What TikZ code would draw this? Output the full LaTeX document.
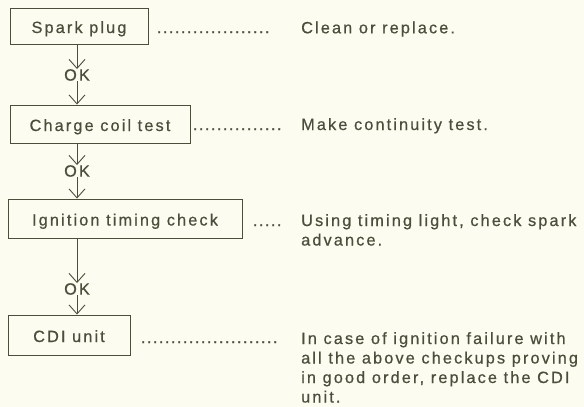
\documentclass[tikz,border=0pt]{standalone}
\usepackage{fontspec}
\setmainfont{Liberation Sans}[LetterSpace=13,FakeBold=0.6]
\usetikzlibrary{arrows.meta}
\definecolor{ink}{HTML}{4D4D3B}
\definecolor{paper}{HTML}{FCFCF1}
\newcommand{\leaderdots}[1]{\hbox to #1{\xleaders\hbox to 6pt{\hss.\hss}\hfill}}
\newcommand{\lines}[1]{\vtop{\baselineskip=19.5pt\halign{##\hfil\cr#1\crcr}}}
\begin{document}
\begin{tikzpicture}[x=1pt,y=-1pt,
  every node/.style={text=ink,font=\fontsize{16.3}{19.5}\selectfont},
  stepbox/.style={draw=ink,line width=0.9pt,inner sep=0pt,anchor=center,text height=14pt,text depth=0pt},
  oklabel/.style={inner sep=0pt,anchor=center},
  flow/.style={draw=ink,line width=0.9pt,-{Straight Barb[length=9pt,width=16pt,line width=0.9pt]}},
  note/.style={anchor=base west,inner sep=0pt},
  leader/.style={anchor=base west,inner sep=0pt}]
\fill[paper] (0,0) rectangle (584,407);
\useasboundingbox (0,0) rectangle (584,407);
% boxes
\node[stepbox,minimum width=138pt,minimum height=36pt] (b1) at (79,26) {Spark plug};
\node[stepbox,minimum width=180pt,minimum height=38pt] (b2) at (100,124) {Charge coil test};
\node[stepbox,minimum width=234pt,minimum height=39pt] (b3) at (125,218.5) {Ignition timing check};
\node[stepbox,minimum width=122pt,minimum height=40pt] (b4) at (69,335) {CDI unit};
% OK labels
\node[oklabel] (ok1) at (77,75) {OK};
\node[oklabel] (ok2) at (77,171) {OK};
\node[oklabel] (ok3) at (77,289) {OK};
% arrows
\draw[flow] (b1.south -| ok1) -- (ok1.north);
\draw[flow] (ok1.south) -- (b2.north -| ok1);
\draw[flow] (b2.south -| ok2) -- (ok2.north);
\draw[flow] (ok2.south) -- (b3.north -| ok2);
\draw[flow] (b3.south -| ok3) -- (ok3.north);
\draw[flow] (ok3.south) -- (b4.north -| ok3);
% leaders
\node[leader] (d1) at (156,33) {\leaderdots{114pt}};
\node[leader] (d2) at (192,130) {\leaderdots{90pt}};
\node[leader] (d3) at (252,226) {\leaderdots{30pt}};
\node[leader] (d4) at (140,343) {\leaderdots{138pt}};
% notes
\node[note] (n1) at (301,33.3) {Clean or replace.};
\node[note] (n2) at (301,130) {Make continuity test.};
\node[note] (n3) at (301,226) {\lines{Using timing light, check spark\cr advance.}};
\node[note] (n4) at (301,344) {\lines{In case of ignition failure with\cr all the above checkups proving\cr in good order, replace the CDI\cr unit.}};
\end{tikzpicture}
\end{document}
